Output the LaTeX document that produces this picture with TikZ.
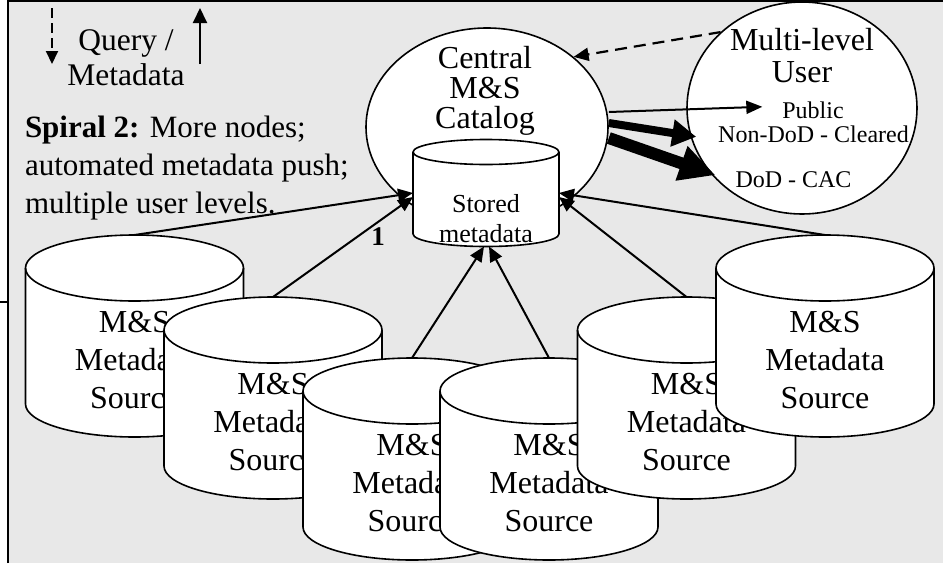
\documentclass[tikz,border=0pt]{standalone}
\usepackage{fontspec}
\setmainfont{Liberation Serif}
\usetikzlibrary{arrows.meta,shapes.geometric,calc}
\definecolor{bggray}{RGB}{232,232,232}
\tikzset{
  frame/.style={draw=black, line width=2.5pt},
  ell/.style={ellipse, draw=black, fill=white, line width=1.6pt, inner sep=0pt},
  cylline/.style={draw=black, line width=1.6pt, line join=round},
  cylbox/.style={rectangle, draw=none, inner sep=0pt, outer sep=0pt, minimum width=218pt, minimum height=202pt},
  stbox/.style={rectangle, draw=none, inner sep=0pt, outer sep=0pt, minimum width=146pt, minimum height=107pt},
  bigtxt/.style={inner sep=0pt, outer sep=0pt, align=center, font=\fontsize{32}{38}\selectfont},
  smalltxt/.style={inner sep=0pt, outer sep=0pt, font=\fontsize{24}{28}\selectfont},
  conn/.style={draw=black, line width=2pt, -{Triangle[length=15pt,width=13pt]}},
  dasharrow/.style={draw=black, line width=2.2pt, dash pattern=on 12pt off 7pt, -{Triangle[length=15pt,width=13pt]}},
  thinarrow/.style={draw=black, line width=2pt, -{Triangle[length=16pt,width=13pt]}},
  medarrow/.style={draw=black, line width=8pt, -{Triangle[length=24pt,width=26pt]}},
  thickarrow/.style={draw=black, line width=12pt, -{Triangle[length=36pt,width=34pt]}},
}
% name, centre x, centre y of top ellipse
\newcommand\mscyl[3]{%
  \node[cylbox] (#1) at (#2,#3+68) {};
  \path[cylline, fill=white] (#1.north west) ++(0,33) -- ++(0,136)
     arc[start angle=180, end angle=0, x radius=109, y radius=33] -- ++(0,-136)
     arc[start angle=0, end angle=-180, x radius=109, y radius=33] -- cycle;
  \draw[cylline] (#1.north west) ++(0,33)
     arc[start angle=180, end angle=0, x radius=109, y radius=33];
  \node[bigtxt, anchor=base] (#1t) at (#2,#3+140) {M\&S\\Metadata\\Source};
}
\begin{document}
\begin{tikzpicture}[x=1pt,y=-1pt]
\useasboundingbox (0,0) rectangle (943,563);
% background
\fill[white] (0,0) rectangle (943,563);
\fill[bggray] (8,1) rectangle (943,563);
\draw[frame] (8,563) -- (8,1.2) -- (943,1.2);
\draw[frame] (0,302) -- (8,302);

% legend
\coordinate (lgd1) at (52,8);
\coordinate (lgd2) at (52,64);
\draw[draw=black, line width=2pt, dash pattern=on 10pt off 5pt, -{Triangle[length=13pt,width=12pt]}] (lgd1) -- (lgd2);
\coordinate (lgu1) at (200,64);
\coordinate (lgu2) at (200,8);
\draw[draw=black, line width=2pt, -{Triangle[length=15pt,width=14pt]}] (lgu1) -- (lgu2);
\node[bigtxt, anchor=base, font=\fontsize{31.5}{35}\selectfont] (legendtxt) at (126,85) {Query /\\Metadata};

% spiral text
\node[bigtxt, align=left, anchor=base west, font=\fontsize{31}{38}\selectfont] (spiral) at (25,213)
  {\textbf{Spiral 2:} More nodes;\\automated metadata push;\\multiple user levels.};

% central catalog
\node[ell, minimum width=242pt, minimum height=198pt] (central) at (487,127) {};
\node[bigtxt, anchor=base, font=\fontsize{32}{30}\selectfont] (centraltxt) at (485,128) {Central\\M\&S\\Catalog};

% stored metadata cylinder
\node[stbox] (stored) at (486,193) {};
\path[cylline, fill=white] (413,152) -- (413,234)
   arc[start angle=180, end angle=0, x radius=73, y radius=12.5] -- (559,152)
   arc[start angle=0, end angle=-180, x radius=73, y radius=12.5] -- cycle;
\draw[cylline] (413,152) arc[start angle=180, end angle=0, x radius=73, y radius=12.5];
\node[inner sep=0pt, outer sep=0pt, align=center, font=\fontsize{26}{30}\selectfont, anchor=base] (storedtxt) at (486,242) {Stored\\metadata};

% multi-level user
\node[ell, minimum width=230pt, minimum height=212pt] (user) at (802,108) {};
\node[bigtxt, anchor=base, font=\fontsize{32}{32}\selectfont] (usertxt) at (802,82) {Multi-level\\User};
\node[smalltxt, anchor=base] (public) at (813,118) {Public};
\node[smalltxt, anchor=base] (noncleared) at (813.5,142) {Non-DoD - Cleared};
\node[smalltxt, anchor=base] (dodcac) at (793.5,187) {DoD - CAC};

% arrows between catalog and user
\draw[dasharrow] (user.137) -- (central.39);
\draw[thinarrow] ([yshift=15pt]central.east) -- ([xshift=-20pt,yshift=3pt]public.west);
\draw[medarrow] ([yshift=4pt]central.east) -- ([xshift=-22pt,yshift=-3pt]noncleared.west);
\draw[thickarrow] ([yshift=-11pt]central.east) -- ([xshift=-20pt,yshift=4pt]dodcac.west);

% label 1
\node[inner sep=0pt, font=\bfseries\fontsize{27}{27}\selectfont, anchor=base] (one) at (378,245) {1};

% sources
\mscyl{c1}{134.5}{268}
\mscyl{c2}{273}{330}
\mscyl{c3}{412}{391}
\mscyl{c4}{549}{391}
\mscyl{c5}{686.5}{330}
\mscyl{c6}{825}{268}

% connectors to stored metadata
\draw[conn] (c1.north) -- (stored.west);
\draw[conn] (c2.north) -- ([yshift=-4pt]stored.west);
\draw[conn] (c3.north) -- ([xshift=-2pt]stored.south);
\draw[conn] (c4.north) -- ([xshift=3pt]stored.south);
\draw[conn] (c5.north) -- ([yshift=-4pt]stored.east);
\draw[conn] (c6.north) -- (stored.east);
\end{tikzpicture}
\end{document}
